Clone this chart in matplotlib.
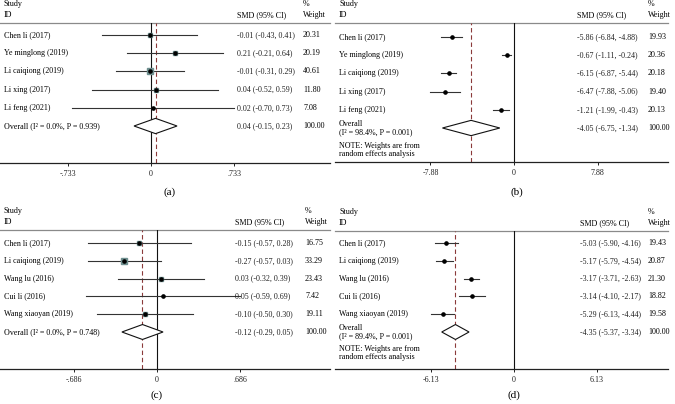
import matplotlib
matplotlib.use("Agg")
import matplotlib.pyplot as plt
from matplotlib.patches import Polygon
from matplotlib.transforms import blended_transform_factory

plt.rcParams["font.family"] = ["Liberation Serif", "DejaVu Serif"]

# ---- data -------------------------------------------------------------
studies_a = ["Chen li (2017)", "Ye minglong (2019)", "Li caiqiong (2019)",
             "Li xing (2017)", "Li feng (2021)"]
smd_a = [-0.01, 0.21, -0.01, 0.04, 0.02]
lo_a = [-0.43, -0.21, -0.31, -0.52, -0.70]
hi_a = [0.41, 0.64, 0.29, 0.59, 0.73]
wt_a = [20.31, 20.19, 40.61, 11.80, 7.08]
overall_a = (0.04, -0.15, 0.23)
overall_lbl_a = "Overall (I\u00b2 = 0.0%, P = 0.939)"
ticks_a = [-0.733, 0, 0.733]
ticklbl_a = ["-.733", "0", ".733"]

studies_b = ["Chen li (2017)", "Ye minglong (2019)", "Li caiqiong (2019)",
             "Li xing (2017)", "Li feng (2021)"]
smd_b = [-5.86, -0.67, -6.15, -6.47, -1.21]
lo_b = [-6.84, -1.11, -6.87, -7.88, -1.99]
hi_b = [-4.88, -0.24, -5.44, -5.06, -0.43]
wt_b = [19.93, 20.36, 20.18, 19.40, 20.13]
overall_b = (-4.05, -6.75, -1.34)
overall_lbl_b = "Overall\n(I\u00b2 = 98.4%, P = 0.001)"
ticks_b = [-7.88, 0, 7.88]
ticklbl_b = ["-7.88", "0", "7.88"]

studies_c = ["Chen li (2017)", "Li caiqiong (2019)", "Wang lu (2016)",
             "Cui li (2016)", "Wang xiaoyan (2019)"]
smd_c = [-0.15, -0.27, 0.03, 0.05, -0.10]
lo_c = [-0.57, -0.57, -0.32, -0.59, -0.50]
hi_c = [0.28, 0.03, 0.39, 0.69, 0.30]
wt_c = [16.75, 33.29, 23.43, 7.42, 19.11]
overall_c = (-0.12, -0.29, 0.05)
overall_lbl_c = "Overall (I\u00b2 = 0.0%, P = 0.748)"
ticks_c = [-0.686, 0, 0.686]
ticklbl_c = ["-.686", "0", ".686"]

studies_d = ["Chen li (2017)", "Li caiqiong (2019)", "Wang lu (2016)",
             "Cui li (2016)", "Wang xiaoyan (2019)"]
smd_d = [-5.03, -5.17, -3.17, -3.14, -5.29]
lo_d = [-5.90, -5.79, -3.71, -4.10, -6.13]
hi_d = [-4.16, -4.54, -2.63, -2.17, -4.44]
wt_d = [19.43, 20.87, 21.30, 18.82, 19.58]
overall_d = (-4.35, -5.37, -3.34)
overall_lbl_d = "Overall\n(I\u00b2 = 89.4%, P = 0.001)"
ticks_d = [-6.13, 0, 6.13]
ticklbl_d = ["-6.13", "0", "6.13"]

NOTE = "NOTE: Weights are from\nrandom effects analysis"

W, H = 675, 404
FS = 5.8
DASH = "#8b3a3a"
BOX = "#6f9090"

fig = plt.figure(figsize=(W / 100, H / 100), dpi=100)


def forest(px, studies, smd, lo, hi, wt, overall, overall_lbl, ticks,
           ticklbl, fixed, label, label_xy):
    # px: left, right, top line, bottom line, first row, row step, zero px, px/unit
    left, right, top, bot, row0, step, zero, scale, smd_x, wt_x = px
    ax = fig.add_axes([left / W, 1 - bot / H, (right - left) / W, (bot - top) / H])
    ax.set_xlim((left - zero) / scale, (right - zero) / scale)
    ax.set_ylim((bot - row0) / step, (top - row0) / step)
    for s in ["top", "right", "left"]:
        ax.spines[s].set_visible(False)
    ax.spines["bottom"].set_linewidth(0.9)
    ax.spines["bottom"].set_color("#222222")
    ax.set_yticks([])
    ax.set_xticks(ticks)
    ax.set_xticklabels(ticklbl, fontsize=FS)
    ax.tick_params(axis="x", length=2.5, width=0.7, pad=2.5, colors="#222222")
    ax.axhline((top - row0) / step, color="#8a8a8a", lw=0.9, clip_on=False)
    ax.axvline(0, color="#111111", lw=0.8)
    ax.axvline(overall[0], color=DASH, lw=0.8, ls=(0, (4, 2.5)))

    tr = blended_transform_factory(ax.transAxes, ax.transData)
    sx = (smd_x - left) / (right - left)
    wx = (wt_x - left) / (right - left)
    lx = 4 / (right - left)

    hy = (top - row0) / step
    ax.text(lx, hy - 1.05, "Study", transform=tr, fontsize=FS, va="center")
    ax.text(lx, hy - 0.45, "ID", transform=tr, fontsize=FS, va="center")
    ax.text(sx, hy - 0.45, "SMD (95% CI)", transform=tr, fontsize=FS, va="center")
    ax.text(wx, hy - 1.05, "%", transform=tr, fontsize=FS, va="center")
    ax.text(wx, hy - 0.45, "Weight", transform=tr, fontsize=FS, va="center")

    for i, (name, m, l, h, w) in enumerate(zip(studies, smd, lo, hi, wt)):
        ax.plot([l, h], [i, i], color="#333333", lw=0.8, zorder=2)
        if fixed:
            ax.plot(m, i, marker="s", ms=0.68 * w ** 0.5, color=BOX, mec=BOX,
                    zorder=3)
        ax.plot(m, i, marker="o", ms=2.3, color="black", zorder=4)
        ax.text(lx, i, name, transform=tr, fontsize=FS, va="center")
        ax.text(sx, i, f"{m:.2f} ({l:.2f}, {h:.2f})",
                transform=tr, fontsize=FS, va="center", color="#222222")
        ax.text(wx, i, f"{w:.2f}", transform=tr, fontsize=FS, va="center")

    n = len(studies)
    m, l, h = overall
    ax.add_patch(Polygon([[l, n], [m, n - 0.42], [h, n], [m, n + 0.42]],
                         closed=True, fc="white", ec="#111111", lw=0.8, zorder=3))
    ax.text(lx, n, overall_lbl, transform=tr, fontsize=FS, va="center",
            linespacing=1.0)
    ax.text(sx, n, f"{m:.2f} ({l:.2f}, {h:.2f})",
            transform=tr, fontsize=FS, va="center", color="#222222")
    ax.text(wx, n, "100.00", transform=tr, fontsize=FS, va="center")
    if not fixed:
        ax.text(lx, n + 1.2, NOTE, transform=tr, fontsize=FS, va="center",
                linespacing=1.0)

    fig.text(label_xy[0] / W, 1 - label_xy[1] / H, label, fontsize=8,
             ha="center", va="center")


forest((0, 330, 23, 163, 35, 18.2, 151, 113.2, 237, 303),
       studies_a, smd_a, lo_a, hi_a, wt_a, overall_a, overall_lbl_a,
       ticks_a, ticklbl_a, True, "(a)", (170, 192))
forest((335, 668, 23, 162, 37, 18.2, 514, 10.6, 577, 648),
       studies_b, smd_b, lo_b, hi_b, wt_b, overall_b, overall_lbl_b,
       ticks_b, ticklbl_b, False, "(b)", (517, 192))
forest((0, 330, 230, 369, 243, 17.8, 157, 121.0, 235, 305),
       studies_c, smd_c, lo_c, hi_c, wt_c, overall_c, overall_lbl_c,
       ticks_c, ticklbl_c, True, "(c)", (157, 395))
forest((335, 668, 231, 369, 243, 17.8, 514, 13.46, 580, 648),
       studies_d, smd_d, lo_d, hi_d, wt_d, overall_d, overall_lbl_d,
       ticks_d, ticklbl_d, False, "(d)", (514, 395))

fig.savefig("out.png", dpi=100)
